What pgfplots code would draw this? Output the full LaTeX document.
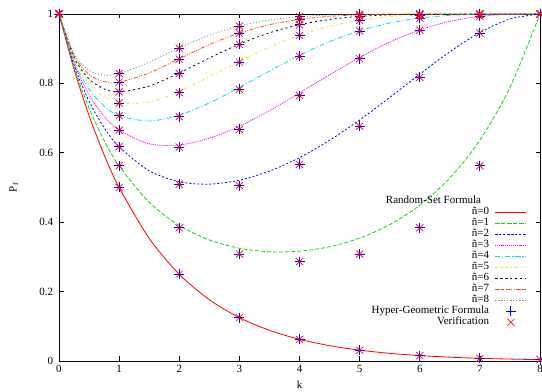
\documentclass[border=0pt]{standalone}
\usepackage{fontspec}
\setmainfont{Liberation Serif}
\usepackage{pgfplots}
\usepackage{pgfplotstable}
\pgfplotsset{compat=1.18}
\definecolor{cgreen}{RGB}{0,225,0}
\definecolor{cyellow}{RGB}{235,235,0}
\definecolor{corange}{RGB}{255,75,10}
\definecolor{cgray}{RGB}{135,135,135}
\definecolor{cmag}{RGB}{255,0,255}
\definecolor{ccyan}{RGB}{0,230,230}

\pgfplotstableread{
k n0 n1 n2 n3 n4 n5 n6 n7 n8
0 1 1 1 1 1 1 1 1 1
0.25 0.840896 0.847391 0.853542 0.859377 0.864919 0.870188 0.875202 0.879979 0.884535
0.5 0.707107 0.728852 0.748697 0.766820 0.783430 0.798688 0.812732 0.825681 0.837639
0.75 0.594604 0.635940 0.672640 0.705332 0.734528 0.760655 0.784079 0.805107 0.824005
1 0.5 0.5625 0.617188 0.665039 0.706909 0.743546 0.775602 0.803652 0.828196
1.5 0.353553 0.457515 0.548323 0.626035 0.691656 0.746558 0.792181 0.829910 0.860992
2 0.25 0.390625 0.516602 0.622620 0.708622 0.776774 0.829941 0.870971 0.902393
2.5 0.176777 0.348878 0.509644 0.641938 0.743698 0.818927 0.873187 0.911713 0.938777
3 0.125 0.324951 0.521053 0.676674 0.788138 0.863661 0.913234 0.945156 0.965479
3.5 0.088388 0.314791 0.547302 0.721658 0.835494 0.904870 0.945656 0.969164 0.982571
4 0.0625 0.316406 0.586182 0.772476 0.880738 0.938951 0.969115 0.984467 0.992211
4.5 0.044194 0.329273 0.635915 0.824916 0.920170 0.964440 0.984320 0.993115 0.996985
5 0.03125 0.354093 0.694522 0.874933 0.951527 0.981597 0.993064 0.997396 0.999024
5.5 0.022097 0.392804 0.759321 0.918906 0.974056 0.991834 0.997441 0.9992 0.99975
6 0.015625 0.448795 0.826552 0.954032 0.988340 0.997074 0.999268 0.999817 0.999954
6.5 0.011049 0.527367 0.891122 0.978770 0.995990 0.999246 0.999859 1 1
7 0.0078125 0.636501 0.946581 0.993184 0.999146 0.999893 1 1 1
7.5 0.005524 0.788159 0.985446 0.999084 0.999943 1 1 1 1
8 0.003906 1 1 1 1 1 1 1 1
}\curves

\pgfplotstableread{
k n0 n1 n2 n3 n4 n5 n6 n7 n8
0 1 1 1 1 1 1 1 1 1
1 0.5 0.5625 0.61719 0.66504 0.70691 0.74355 0.77560 0.80365 0.82820
2 0.25 0.38393 0.50925 0.61656 0.70419 0.77373 0.82793 0.86968 0.90158
3 0.125 0.30804 0.50574 0.66724 0.78319 0.86128 0.91215 0.94468 0.96528
4 0.0625 0.28661 0.56634 0.76458 0.87815 0.93818 0.96890 0.98441 0.99219
5 0.03125 0.30804 0.67674 0.87123 0.95089 0.98150 0.99305 0.99739 0.99902
6 0.015625 0.38393 0.81728 0.95330 0.98829 0.99707 0.99927 0.99982 0.99995
7 0.0078125 0.5625 0.94531 0.99316 0.99915 0.99989 0.99999 1 1
8 0.0039063 1 1 1 1 1 1 1 1
}\marks

\begin{document}
\fontsize{11}{13}\selectfont
\begin{tikzpicture}
\begin{axis}[
  scale only axis, width=481pt, height=347pt,
  xmin=0, xmax=8, ymin=0, ymax=1,
  xtick={0,1,2,3,4,5,6,7,8},
  ytick={0,0.2,0.4,0.6,0.8,1},
  tick align=inside, major tick length=4.5pt,
  axis line style={line width=0.8pt},
  every tick/.style={black, line width=0.6pt},
  /pgf/number format/assume math mode=true,
  ticklabel style={font=\fontsize{11}{13}\selectfont},
  yticklabel style={xshift=-2pt},
  xlabel={k}, ylabel={P\textsubscript{f}},
  xlabel style={at={(axis description cs:0.5,-0.069)}, anchor=center},
  ylabel style={at={(axis description cs:-0.094,0.5)}, anchor=center},
  legend cell align=right, legend plot pos=right,
  legend image code/.code={\draw[mark repeat=2,mark phase=2,#1] plot coordinates {(0pt,0pt) (15.5pt,0pt) (31pt,0pt)};},
  legend style={at={(rel axis cs:0.973,0.095)}, anchor=south east, draw=none, fill=none,
    font=\fontsize{11}{13}\selectfont, row sep=0pt, column sep=6pt, inner sep=0pt,
    nodes={inner sep=0pt, text height=8pt, text depth=3pt}},
  every axis plot/.append style={line width=0.8pt},
  clip=false,
]
\addlegendimage{empty legend}
\addlegendentry{Random-Set Formula\hspace*{8pt}}
\addplot[red, smooth] table[x=k,y=n0]{\curves};
\addlegendentry{ñ=0}
\addplot[cgreen, smooth, dash pattern=on 4pt off 2pt] table[x=k,y=n1]{\curves};
\addlegendentry{ñ=1}
\addplot[blue, smooth, dash pattern=on 2pt off 2pt] table[x=k,y=n2]{\curves};
\addlegendentry{ñ=2}
\addplot[cmag, smooth, dash pattern=on 1pt off 1pt] table[x=k,y=n3]{\curves};
\addlegendentry{ñ=3}
\addplot[ccyan, smooth, dash pattern=on 5pt off 2pt on 1pt off 2pt] table[x=k,y=n4]{\curves};
\addlegendentry{ñ=4}
\addplot[cyellow, smooth, dash pattern=on 3pt off 3pt on 1pt off 3pt] table[x=k,y=n5]{\curves};
\addlegendentry{ñ=5}
\addplot[black, smooth, dash pattern=on 2pt off 3pt] table[x=k,y=n6]{\curves};
\addlegendentry{ñ=6}
\addplot[corange, smooth, dash pattern=on 4pt off 1.5pt on 1pt off 1.5pt on 1pt off 1.5pt] table[x=k,y=n7]{\curves};
\addlegendentry{ñ=7}
\addplot[cgray, smooth, dash pattern=on 1pt off 2pt] table[x=k,y=n8]{\curves};
\addlegendentry{ñ=8}
\pgfplotsinvokeforeach{0,...,8}{
  \addplot[forget plot, only marks, blue, mark=+, mark size=5pt, mark options={line width=0.9pt}] table[x=k,y=n#1]{\marks};
}
\pgfplotsinvokeforeach{0,...,8}{
  \addplot[forget plot, only marks, red, mark=x, mark size=5pt, mark options={line width=0.7pt}] table[x=k,y=n#1]{\marks};
}
\addlegendimage{only marks, blue, mark=+, mark size=5pt, mark options={line width=0.9pt}}
\addlegendentry{Hyper-Geometric Formula}
\addlegendimage{only marks, red, mark=x, mark size=5pt, mark options={line width=0.7pt}}
\addlegendentry{Verification}
\end{axis}
\pgfresetboundingbox
\path ([shift={(-59pt,-31pt)}]current axis.south west) rectangle ([shift={(2pt,14pt)}]current axis.north east);
\end{tikzpicture}
\end{document}
